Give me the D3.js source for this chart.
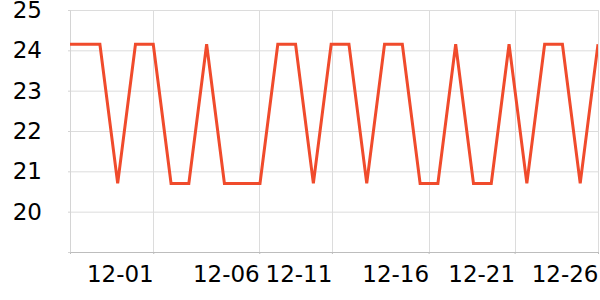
<!DOCTYPE html>
<html>
<head>
<meta charset="utf-8">
<script src="https://cdn.jsdelivr.net/npm/d3@7"></script>
<style>
  body { margin: 0; background: #fff; }
  text { font-family: "DejaVu Sans", sans-serif; }
</style>
</head>
<body>
<div id="chart"></div>
<script>
// daily readings
var dates = ["2023-11-26","2023-11-27","2023-11-28","2023-11-29","2023-11-30",
  "2023-12-01","2023-12-02","2023-12-03","2023-12-04","2023-12-05","2023-12-06",
  "2023-12-07","2023-12-08","2023-12-09","2023-12-10","2023-12-11","2023-12-12",
  "2023-12-13","2023-12-14","2023-12-15","2023-12-16","2023-12-17","2023-12-18",
  "2023-12-19","2023-12-20","2023-12-21","2023-12-22","2023-12-23","2023-12-24",
  "2023-12-25","2023-12-26"];
var values = [24.15,24.15,24.15,20.7,24.15,
  24.15,20.7,20.7,24.15,20.7,20.7,
  20.7,24.15,24.15,20.7,24.15,24.15,
  20.7,24.15,24.15,20.7,20.7,24.15,
  20.7,20.7,24.15,20.7,24.15,24.15,
  20.7,24.15];

var xDomain = ["2023-11-26T07:40","2023-12-26T00:00"];
var xTicks = ["2023-12-01T00:00","2023-12-06T23:00","2023-12-11T01:00",
  "2023-12-16T11:30","2023-12-21T07:30","2023-12-26T00:00"];
var yTicks = [20, 21, 22, 23, 24, 25];
var yDomain = [19, 25];

var svgWidth = 600;
var svgHeight = 300;
var margin = {top: 10, right: 2, bottom: 48, left: 70};
var width = svgWidth - margin.left - margin.right;
var height = svgHeight - margin.top - margin.bottom;

var parse = d3.isoParse;
var data = dates.map(function(d, i){ return {date: parse(d), value: values[i]}; });

var svg = d3.select("#chart")
  .append("svg")
  .attr("width", svgWidth)
  .attr("height", svgHeight);

var chartGroup = svg.append("g")
  .attr("transform", `translate(${margin.left},${margin.top})`);

var xScale = d3.scaleTime()
  .domain(xDomain.map(parse))
  .range([0, width]);
var yScale = d3.scaleLinear()
  .domain(yDomain)
  .range([height, 0]);

// grid
chartGroup.append("g")
  .selectAll("line.h")
  .data(yTicks)
  .enter()
  .append("line")
  .attr("x1", 0).attr("x2", width)
  .attr("y1", d => yScale(d) + 0.5).attr("y2", d => yScale(d) + 0.5)
  .attr("stroke", "#dcdcdc");
chartGroup.append("g")
  .selectAll("line.v")
  .data(xTicks.map(parse))
  .enter()
  .append("line")
  .attr("x1", d => Math.round(xScale(d)) + 0.5).attr("x2", d => Math.round(xScale(d)) + 0.5)
  .attr("y1", 0).attr("y2", height)
  .attr("stroke", "#dcdcdc");

// y axis
var leftAxis = d3.axisLeft(yScale)
  .tickValues(yTicks)
  .tickFormat(d3.format("d"))
  .tickSize(2)
  .tickSizeOuter(2)
  .tickPadding(26);
var yAxis = chartGroup.append("g").call(leftAxis);
yAxis.select(".domain").attr("stroke", "#d4d4d4");
yAxis.selectAll(".tick line").attr("stroke", "#d4d4d4");
yAxis.selectAll("text")
  .style("font-size", "23px")
  .attr("fill", "#000");

// x axis
var bottomAxis = d3.axisBottom(xScale)
  .tickValues(xTicks.map(parse))
  .tickFormat(d3.timeFormat("%m-%d"))
  .tickSize(2)
  .tickSizeOuter(2);
var xAxis = chartGroup.append("g")
  .attr("transform", `translate(0,${height})`)
  .call(bottomAxis);
xAxis.select(".domain").attr("stroke", "#bdbdbd");
xAxis.selectAll(".tick line").attr("stroke", "#bdbdbd");
xAxis.selectAll("text")
  .attr("text-anchor", "end")
  .attr("y", 14)
  .style("font-size", "23px")
  .attr("fill", "#000");

// line
chartGroup.append("clipPath")
  .attr("id", "plot-clip")
  .append("rect")
  .attr("x", 0).attr("y", -5)
  .attr("width", width).attr("height", height + 10);

var line = d3.line()
  .x(d => xScale(d.date))
  .y(d => yScale(d.value));

chartGroup.append("path")
  .datum(data)
  .attr("clip-path", "url(#plot-clip)")
  .attr("d", line)
  .attr("fill", "none")
  .attr("stroke", "#f04b2c")
  .attr("stroke-width", 3)
  .attr("stroke-linejoin", "miter");
</script>
</body>
</html>
